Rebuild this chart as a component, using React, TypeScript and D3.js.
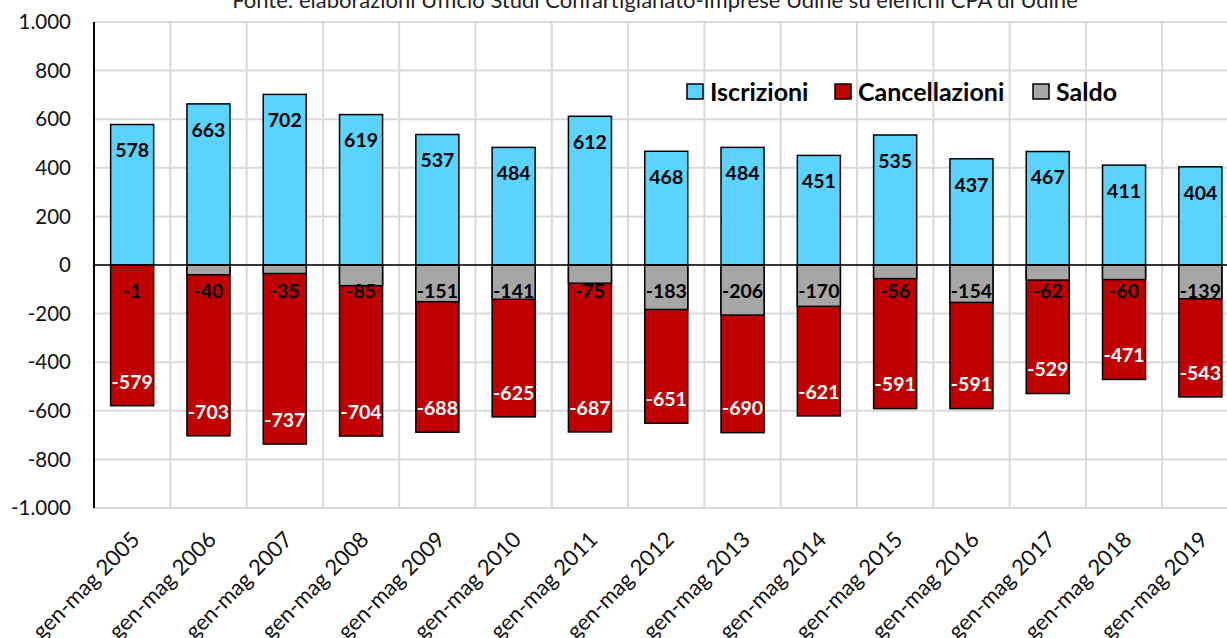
import React from 'react';
import * as d3 from 'd3';

const categories = [
  'gen-mag 2005', 'gen-mag 2006', 'gen-mag 2007', 'gen-mag 2008', 'gen-mag 2009',
  'gen-mag 2010', 'gen-mag 2011', 'gen-mag 2012', 'gen-mag 2013', 'gen-mag 2014',
  'gen-mag 2015', 'gen-mag 2016', 'gen-mag 2017', 'gen-mag 2018', 'gen-mag 2019'
];
const iscrizioni = [578, 663, 702, 619, 537, 484, 612, 468, 484, 451, 535, 437, 467, 411, 404];
const cancellazioni = [-579, -703, -737, -704, -688, -625, -687, -651, -690, -621, -591, -591, -529, -471, -543];
const saldo = [-1, -40, -35, -85, -151, -141, -75, -183, -206, -170, -56, -154, -62, -60, -139];
const yTicks = [1000, 800, 600, 400, 200, 0, -200, -400, -600, -800, -1000];
const title = 'Fonte: elaborazioni Ufficio Studi Confartigianato-Imprese Udine su elenchi CPA di Udine';

const legendItems = [
  { name: 'Iscrizioni', color: '#5bd3ff' },
  { name: 'Cancellazioni', color: '#c00000' },
  { name: 'Saldo', color: '#a6a6a6' }
];

const itLocale = d3.formatLocale({ decimal: ',', thousands: '.', grouping: [3], currency: ['€', ''], minus: '-' });
const fmt = itLocale.format(',d');

export default function App() {
  const width = 1227, height = 638;
  const left = 94, top = 22, bottom = 508;
  const step = 76.3;
  const font = 'Lato, Carlito, Calibri, sans-serif';

  const x = d3.scaleBand<string>()
    .domain(categories)
    .range([left, left + step * categories.length])
    .paddingInner(0.436)
    .paddingOuter(0.218);
  const y = d3.scaleLinear().domain([-1000, 1000]).range([bottom, top]);
  const bw = x.bandwidth();

  const legendX = [687, 835, 1033];

  return (
    <svg width={width} height={height} style={{ position: 'absolute', left: 0, top: 0, background: '#fff' }}>
      <text x={655} y={8} textAnchor="middle" fontFamily={font} fontSize={22} fill="#222">{title}</text>

      {/* grid */}
      {yTicks.map(t => (
        <line key={'h' + t} x1={left} x2={width} y1={y(t)} y2={y(t)} stroke="#d9d9d9" strokeWidth={2} />
      ))}
      {categories.map((c, i) => (
        <line key={'v' + i} x1={left + step * (i + 1)} x2={left + step * (i + 1)} y1={top} y2={bottom} stroke="#d9d9d9" strokeWidth={2} />
      ))}

      {/* y tick labels */}
      {yTicks.map(t => (
        <text key={'yl' + t} x={71} y={y(t)} dy="0.35em" textAnchor="end" fontFamily={font} fontSize={20.5} fill="#111">{fmt(t)}</text>
      ))}

      {/* bars */}
      {categories.map((c, i) => (
        <g key={'b' + i}>
          <rect x={x(c)} y={y(iscrizioni[i])} width={bw} height={y(0) - y(iscrizioni[i])} fill="#5bd3ff" stroke="#000" strokeWidth={1.5} />
          <rect x={x(c)} y={y(0)} width={bw} height={y(cancellazioni[i]) - y(0)} fill="#c00000" stroke="#000" strokeWidth={1.5} />
          <rect x={x(c)} y={y(0)} width={bw} height={y(saldo[i]) - y(0)} fill="#a6a6a6" stroke="#000" strokeWidth={1.5} />
        </g>
      ))}

      {/* axes */}
      <line x1={left} x2={width} y1={y(0)} y2={y(0)} stroke="#000" strokeWidth={1.5} />
      <line x1={left} x2={left} y1={top} y2={bottom} stroke="#000" strokeWidth={2} />

      {/* labels */}
      {categories.map((c, i) => {
        const cx = (x(c) as number) + bw / 2;
        return (
          <g key={'l' + i} fontFamily={font} fontWeight="bold" fontSize={19.5} textAnchor="middle">
            <text x={cx} y={y(iscrizioni[i]) + 26} dy="0.35em" fill="#000">{iscrizioni[i]}</text>
            <text x={cx} y={y(cancellazioni[i]) - 24} dy="0.35em" fill="#fff">{cancellazioni[i]}</text>
            <text x={cx} y={y(0) + 26} dy="0.35em" fill="#000">{saldo[i]}</text>
          </g>
        );
      })}

      {/* x labels */}
      {categories.map((c, i) => {
        const cx = (x(c) as number) + bw / 2;
        return (
          <text key={'xl' + i} transform={`translate(${cx + 9},${bottom + 33}) rotate(-45)`} textAnchor="end"
            fontFamily={font} fontSize={22} fill="#111">{c}</text>
        );
      })}

      {/* legend */}
      {legendItems.map((d, i) => (
        <g key={'lg' + i}>
          <rect x={legendX[i]} y={84} width={16} height={15} fill={d.color} stroke="#000" strokeWidth={1.5} />
          <text x={legendX[i] + 23} y={91.5} dy="0.36em" fontFamily={font} fontWeight="bold" fontSize={25} fill="#000">{d.name}</text>
        </g>
      ))}
    </svg>
  );
}
